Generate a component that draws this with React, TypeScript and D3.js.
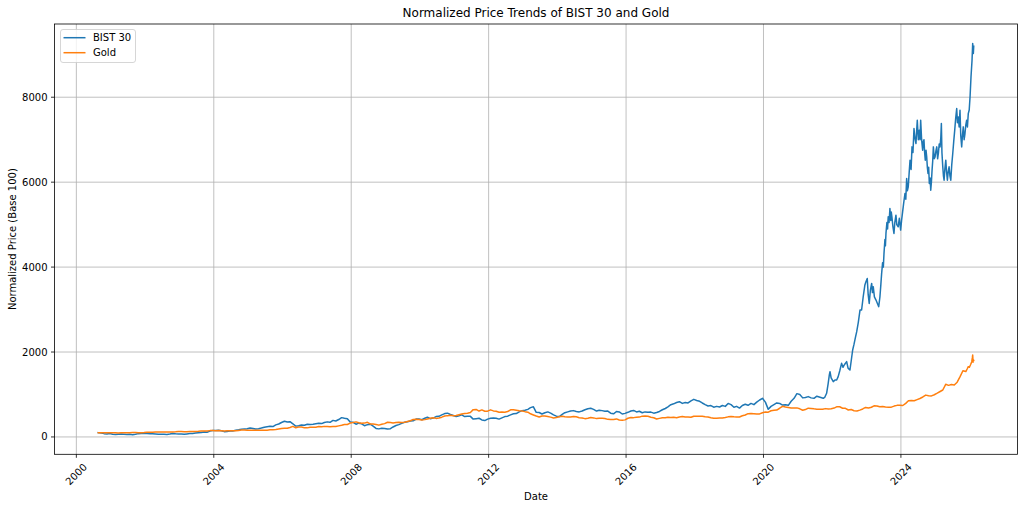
import React from "react";
import * as d3 from "d3";

const WIDTH = 1024;
const HEIGHT = 509;
const PLOT = { left: 54.5, right: 1017.5, top: 24, bottom: 454.3 };

const title = "Normalized Price Trends of BIST 30 and Gold";
const xLabel = "Date";
const yLabel = "Normalized Price (Base 100)";
const seriesNames = ["BIST 30", "Gold"];
const seriesColors = ["#1f77b4", "#ff7f0e"];
const yTicks = [0, 2000, 4000, 6000, 8000];
const xTickYears = ["2000", "2004", "2008", "2012", "2016", "2020", "2024"];

// monthly observations start here, one per month
const monthlyStart = "2000-08-21";

const bist30Monthly = [
  100, 92, 78, 72,
  80, 62, 58, 64, 70, 66, 60, 62, 52, 62, 78, 82,
  88, 80, 78, 76, 70, 64, 62, 66, 60, 68, 80, 74,
  72, 68, 62, 70, 80, 84, 92, 100, 104, 118, 112, 138,
  150, 152, 158, 145, 125, 130, 140, 142, 158, 168, 180, 190,
  195, 210, 200, 185, 195, 210, 230, 240, 250, 245, 285, 305,
  340, 370, 350, 360, 310, 255, 265, 280, 275, 300, 295, 300,
  310, 320, 315, 340, 355, 345, 390, 375, 410, 455, 440, 430,
  350, 345, 300, 325, 310, 265, 290, 300, 255, 200, 190, 205,
  200, 185, 195, 235, 270, 290, 320, 345, 360, 375, 380, 420,
  425, 405, 440, 465, 430, 445, 480, 485, 520, 550, 560, 530,
  505, 480, 500, 520, 480, 490, 485, 420, 430, 440, 400, 385,
  420, 440, 445, 440, 420, 450, 480, 490, 520, 545, 550, 590,
  620, 630, 650, 690, 710, 580, 575, 540, 570, 590, 560, 520,
  490, 480, 530, 570, 590, 610, 620, 600, 590, 610, 640, 665,
  675, 650, 610, 630, 620, 605, 610, 560, 545, 600, 590, 540,
  555, 580, 610, 625, 590, 605, 570, 590, 580, 585, 560, 575,
  600, 640, 670, 710, 760, 780, 810, 830, 790, 810, 800, 850,
  885, 860, 840, 800, 760, 730, 740, 700, 720, 705, 740, 720,
  790, 760, 700, 720, 680, 740, 770, 745, 790, 760, 820, 870,
  910, 820, 650, 720, 760, 800, 790, 750, 760, 745, 840, 910,
  1020, 1000, 920, 930, 950, 920, 910, 960,
];

const bist30Daily: [string, number][] = [
  ["2021-09-27", 910], ["2021-10-15", 940], ["2021-11-02", 1028], ["2021-11-18", 1250],
  ["2021-12-01", 1460], ["2021-12-08", 1537], ["2021-12-20", 1390], ["2022-01-12", 1302],
  ["2022-01-30", 1341], ["2022-02-17", 1340], ["2022-03-05", 1420], ["2022-03-22", 1560],
  ["2022-04-10", 1734], ["2022-04-25", 1640], ["2022-05-10", 1700], ["2022-06-03", 1773],
  ["2022-06-18", 1620], ["2022-07-08", 1576], ["2022-07-22", 1800], ["2022-08-06", 2047],
  ["2022-08-20", 2180], ["2022-09-05", 2350], ["2022-09-18", 2480], ["2022-10-05", 2700],
  ["2022-10-23", 2988], ["2022-11-09", 2990], ["2022-11-26", 3302], ["2022-12-14", 3580],
  ["2022-12-25", 3655], ["2023-01-08", 3730], ["2023-01-18", 3350], ["2023-01-29", 3145],
  ["2023-02-10", 3450], ["2023-02-24", 3616], ["2023-03-04", 3400], ["2023-03-13", 3537],
  ["2023-03-25", 3300], ["2023-04-11", 3224], ["2023-04-25", 3150], ["2023-05-10", 3067],
  ["2023-05-23", 3302], ["2023-06-02", 3600], ["2023-06-10", 3851], ["2023-06-20", 4100],
  ["2023-06-28", 4000], ["2023-07-05", 4322], ["2023-07-15", 4650], ["2023-07-20", 4500],
  ["2023-07-26", 4793], ["2023-08-05", 5050], ["2023-08-12", 4900], ["2023-08-19", 5184],
  ["2023-08-28", 5050], ["2023-09-06", 5380], ["2023-09-15", 5100], ["2023-09-20", 5300],
  ["2023-09-27", 5184], ["2023-10-08", 4950], ["2023-10-19", 4793], ["2023-10-28", 5050],
  ["2023-11-09", 5223], ["2023-11-18", 5000], ["2023-12-03", 4949], ["2023-12-15", 5150],
  ["2023-12-29", 4871], ["2024-01-08", 5100], ["2024-01-19", 5302], ["2024-01-30", 5500],
  ["2024-02-13", 5733], ["2024-02-22", 5600], ["2024-03-02", 6087], ["2024-03-10", 5800],
  ["2024-03-19", 5890], ["2024-03-28", 6200], ["2024-04-07", 6518], ["2024-04-18", 6300],
  ["2024-04-28", 6831], ["2024-05-08", 6700], ["2024-05-19", 7263], ["2024-05-28", 7050],
  ["2024-06-09", 6910], ["2024-06-16", 7200], ["2024-06-23", 7459], ["2024-07-04", 7000],
  ["2024-07-14", 7224], ["2024-07-22", 7000], ["2024-07-29", 7459], ["2024-08-08", 7000],
  ["2024-08-19", 6753], ["2024-08-26", 6950], ["2024-09-02", 7000], ["2024-09-09", 6700],
  ["2024-09-16", 6518], ["2024-09-24", 6750], ["2024-10-01", 6596], ["2024-10-08", 6350],
  ["2024-10-15", 6204], ["2024-10-22", 6350], ["2024-10-29", 5969], ["2024-11-06", 6100],
  ["2024-11-13", 5812], ["2024-11-20", 6000], ["2024-11-27", 6282], ["2024-12-04", 6500],
  ["2024-12-11", 6831], ["2024-12-20", 6550], ["2024-12-29", 6596], ["2025-01-08", 6750],
  ["2025-01-16", 6831], ["2025-01-25", 6550], ["2025-02-02", 6675], ["2025-02-11", 6900],
  ["2025-02-20", 6831], ["2025-02-28", 7050], ["2025-03-06", 7381], ["2025-03-12", 6700],
  ["2025-03-21", 6361], ["2025-03-28", 6150], ["2025-04-04", 6047], ["2025-04-12", 6300],
  ["2025-04-22", 6518], ["2025-04-30", 6250], ["2025-05-09", 6047], ["2025-05-18", 6250],
  ["2025-05-27", 6361], ["2025-06-05", 6150], ["2025-06-14", 6047], ["2025-06-24", 6400],
  ["2025-07-05", 6675], ["2025-07-15", 6950], ["2025-07-26", 7224], ["2025-08-05", 7500],
  ["2025-08-16", 7734], ["2025-08-24", 7400], ["2025-09-02", 7537], ["2025-09-11", 7300],
  ["2025-09-20", 7694], ["2025-09-28", 7100], ["2025-10-08", 6831], ["2025-10-16", 7100],
  ["2025-10-25", 7302], ["2025-11-03", 7000], ["2025-11-12", 7145], ["2025-11-21", 7350],
  ["2025-11-30", 7459], ["2025-12-08", 7300], ["2025-12-17", 7615], ["2025-12-27", 7700],
  ["2026-01-05", 8008], ["2026-01-15", 8478], ["2026-01-26", 8870], ["2026-02-02", 9264],
  ["2026-02-09", 9028], ["2026-02-13", 9200],
];

const goldMonthly = [
  100, 99, 97, 100,
  97, 96, 96, 95, 100, 99, 98, 100, 104, 104, 101, 101,
  103, 108, 108, 111, 115, 118, 115, 114, 117, 116, 117, 122,
  131, 131, 125, 120, 130, 130, 129, 132, 139, 139, 142, 149,
  152, 148, 149, 148, 141, 144, 146, 147, 148, 154, 161, 162,
  155, 155, 159, 157, 155, 158, 155, 160, 167, 172, 174, 187,
  201, 203, 204, 223, 248, 218, 232, 232, 219, 214, 230, 230,
  231, 244, 240, 249, 244, 240, 244, 244, 261, 276, 295, 294,
  326, 338, 355, 333, 325, 326, 344, 307, 304, 295, 278, 299,
  314, 345, 338, 326, 340, 347, 342, 348, 365, 382, 413, 415,
  410, 401, 408, 421, 441, 452, 437, 445, 466, 492, 502, 510,
  498, 503, 522, 540, 553, 560, 576, 643, 649, 610, 637, 605,
  607, 638, 613, 604, 581, 585, 584, 597, 639, 640, 631, 617,
  612, 596, 584, 545, 518, 492, 471, 493, 494, 482, 467, 447,
  456, 476, 489, 476, 471, 468, 480, 475, 454, 448, 431, 440,
  458, 449, 432, 439, 439, 433, 414, 409, 412, 425, 398, 391,
  402, 440, 456, 455, 462, 467, 490, 491, 486, 464, 453, 422,
  437, 452, 451, 464, 456, 462, 453, 470, 482, 469, 470, 463,
  488, 488, 485, 489, 478, 469, 453, 440, 439, 445, 447, 458,
  473, 484, 476, 471, 470, 498, 518, 549, 553, 548, 539, 542,
  571, 585, 583, 616, 629, 634, 676, 721, 704, 696, 684, 681,
  684, 662, 629, 645, 678, 672, 662, 654, 650, 651, 667, 656,
  666, 680, 714, 710, 677, 673, 634, 646, 616, 610, 632, 659,
  695, 680, 700, 732, 730, 711, 715, 703, 702, 702, 727, 744,
  745, 741, 791, 854, 861, 852, 879, 905, 941, 985, 971, 967,
  993, 1030, 1070, 1106, 1240, 1215, 1235, 1225, 1290, 1420, 1560, 1540,
];

const goldDaily: [string, number][] = [
  ["2025-12-05", 1600], ["2025-12-17", 1655], ["2025-12-29", 1640], ["2026-01-10", 1700],
  ["2026-01-23", 1773], ["2026-01-29", 1860], ["2026-02-02", 1930], ["2026-02-06", 1760],
  ["2026-02-10", 1820], ["2026-02-13", 1800],
];

type Pt = { date: Date; value: number };
const parseDay = d3.timeParse("%Y-%m-%d");

function buildSeries(monthly: number[], daily: [string, number][]): Pt[] {
  const start = parseDay(monthlyStart) as Date;
  const m = monthly.map((v, i) => ({ date: d3.timeMonth.offset(start, i), value: v }));
  const d = daily.map(([s, v]) => ({ date: parseDay(s) as Date, value: v }));
  return [...m, ...d];
}

const FONT = "'DejaVu Sans', 'Liberation Sans', sans-serif";

export default function App() {
  const series = [buildSeries(bist30Monthly, bist30Daily), buildSeries(goldMonthly, goldDaily)];
  const all = series.flat();
  const [dMin, dMax] = d3.extent(all, (d) => d.date.getTime()) as [number, number];
  const [vMin, vMax] = d3.extent(all, (d) => d.value) as [number, number];
  const dPad = (dMax - dMin) * 0.05;
  const vPad = (vMax - vMin) * 0.05;

  const x = d3.scaleTime().domain([new Date(dMin - dPad), new Date(dMax + dPad)]).range([PLOT.left, PLOT.right]);
  const y = d3.scaleLinear().domain([vMin - vPad, vMax + vPad]).range([PLOT.bottom, PLOT.top]);

  const line = d3
    .line<Pt>()
    .x((d) => x(d.date))
    .y((d) => y(d.value));

  const xTicks = xTickYears.map((s) => ({ label: s, pos: x(d3.timeParse("%Y")(s) as Date) }));
  const cx = (PLOT.left + PLOT.right) / 2;
  const cy = (PLOT.top + PLOT.bottom) / 2;

  return (
    <svg width={WIDTH} height={HEIGHT} style={{ position: "absolute", left: 0, top: 0, background: "#fff" }} fontFamily={FONT}>
      <rect x={0} y={0} width={WIDTH} height={HEIGHT} fill="#fff" />
      <g stroke="#b0b0b0" strokeWidth={0.8}>
        {xTicks.map((t) => (
          <line key={"gx" + t.label} x1={t.pos} x2={t.pos} y1={PLOT.top} y2={PLOT.bottom} />
        ))}
        {yTicks.map((v) => (
          <line key={"gy" + v} x1={PLOT.left} x2={PLOT.right} y1={y(v)} y2={y(v)} />
        ))}
      </g>
      <defs>
        <clipPath id="plotclip">
          <rect x={PLOT.left} y={PLOT.top} width={PLOT.right - PLOT.left} height={PLOT.bottom - PLOT.top} />
        </clipPath>
      </defs>
      <g clipPath="url(#plotclip)" fill="none" strokeWidth={1.5} strokeLinejoin="round" strokeLinecap="square">
        {series.map((s, i) => (
          <path key={seriesNames[i]} d={line(s) || ""} stroke={seriesColors[i]} />
        ))}
      </g>
      <rect
        x={PLOT.left}
        y={PLOT.top}
        width={PLOT.right - PLOT.left}
        height={PLOT.bottom - PLOT.top}
        fill="none"
        stroke="#000"
        strokeWidth={0.8}
      />
      <g fontSize={10} fill="#000">
        {xTicks.map((t) => (
          <g key={"xt" + t.label}>
            <line x1={t.pos} x2={t.pos} y1={PLOT.bottom} y2={PLOT.bottom + 3.5} stroke="#000" strokeWidth={0.8} />
            <text
              transform={`translate(${t.pos},${PLOT.bottom + 20}) rotate(-45)`}
              textAnchor="middle"
              dominantBaseline="central"
            >
              {t.label}
            </text>
          </g>
        ))}
        {yTicks.map((v) => (
          <g key={"yt" + v}>
            <line x1={PLOT.left - 3.5} x2={PLOT.left} y1={y(v)} y2={y(v)} stroke="#000" strokeWidth={0.8} />
            <text x={PLOT.left - 7} y={y(v)} textAnchor="end" dominantBaseline="central">
              {v}
            </text>
          </g>
        ))}
      </g>
      <text x={cx} y={13} textAnchor="middle" dominantBaseline="central" fontSize={12} fill="#000">
        {title}
      </text>
      <text x={cx} y={496} textAnchor="middle" dominantBaseline="central" fontSize={10} fill="#000">
        {xLabel}
      </text>
      <text
        transform={`translate(12,${cy}) rotate(-90)`}
        textAnchor="middle"
        dominantBaseline="central"
        fontSize={10}
        fill="#000"
      >
        {yLabel}
      </text>
      <g>
        <rect x={60.5} y={29.5} width={75} height={33} rx={2.5} fill="#fff" fillOpacity={0.8} stroke="#cccccc" strokeWidth={0.8} />
        {seriesNames.map((name, i) => (
          <g key={"lg" + name}>
            <line x1={63.5} x2={85.5} y1={37.7 + i * 15} y2={37.7 + i * 15} stroke={seriesColors[i]} strokeWidth={1.5} />
            <text x={93} y={37.7 + i * 15} dominantBaseline="central" fontSize={10} fill="#000">
              {name}
            </text>
          </g>
        ))}
      </g>
    </svg>
  );
}
